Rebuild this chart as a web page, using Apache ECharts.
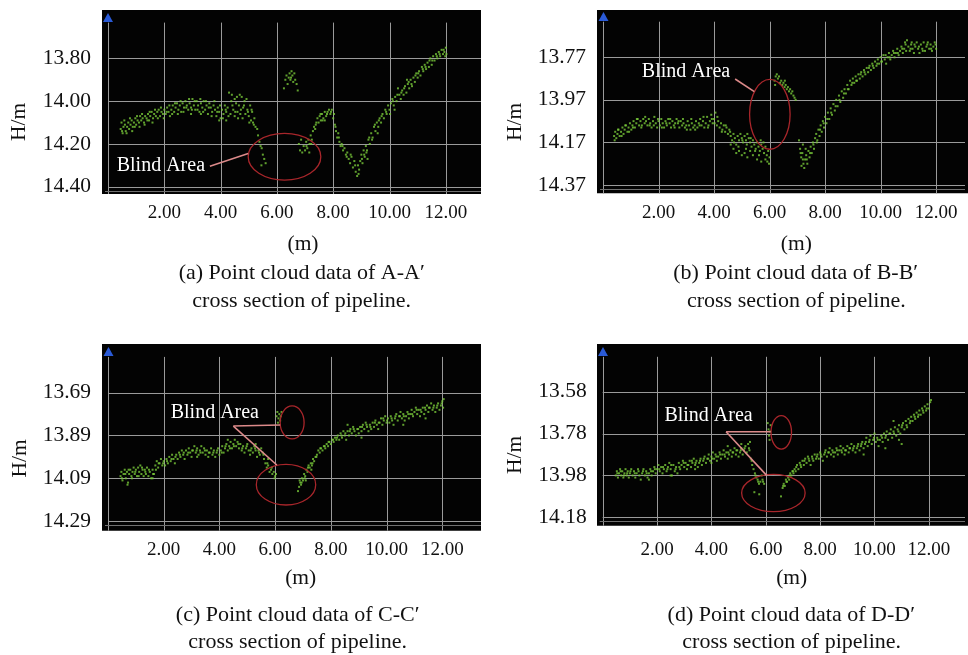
<!DOCTYPE html>
<html><head><meta charset="utf-8">
<script src="https://cdn.jsdelivr.net/npm/echarts@6/dist/echarts.min.js"></script>
<style>html,body{margin:0;padding:0;background:#fff}#c{width:968px;height:655px}</style>
</head><body><div id="c"></div>
<script>
// ---------- data ----------
const xTickLabels = [2, 4, 6, 8, 10, 12];
const yTickLabelsA = [13.80, 14.00, 14.20, 14.40];
const yTickLabelsB = [13.77, 13.97, 14.17, 14.37];
const yTickLabelsC = [13.69, 13.89, 14.09, 14.29];
const yTickLabelsD = [13.58, 13.78, 13.98, 14.18];
const captionsA = ['(a) Point cloud data of A-A\u2032', 'cross section of pipeline.'];
const captionsB = ['(b) Point cloud data of B-B\u2032', 'cross section of pipeline.'];
const captionsC = ['(c) Point cloud data of C-C\u2032', 'cross section of pipeline.'];
const captionsD = ['(d) Point cloud data of D-D\u2032', 'cross section of pipeline.'];
const noteText = 'Blind Area';

const pointsA = [
[0.45,14.13],[0.48,14.10],[0.52,14.15],[0.55,14.12],[0.60,14.11],[0.63,14.14],[0.68,14.12],[0.72,14.10],[0.75,14.13],[0.80,14.11],[0.84,14.09],[0.88,14.12],[0.92,14.10],[0.97,14.08],[1.00,14.11],[1.05,14.09],[1.10,14.10],[1.14,14.07],[1.18,14.09],[1.23,14.08],[1.28,14.10],[1.32,14.07],[1.37,14.08],[1.42,14.06],[1.46,14.09],[1.50,14.07],[1.55,14.05],[1.60,14.08],[1.64,14.06],[1.70,14.07],[1.75,14.05],[1.80,14.04],[1.85,14.07],[1.90,14.05],[1.95,14.06],[2.00,14.04],[2.05,14.06],[2.10,14.03],[2.15,14.05],[2.20,14.07],[2.25,14.04],[2.30,14.02],[2.35,14.05],[2.40,14.03],[2.45,14.01],[2.50,14.04],[2.55,14.02],[2.60,14.05],[2.65,14.01],[2.70,14.03],[2.75,14.00],[2.80,14.02],[2.85,14.04],[2.90,14.01],[2.95,14.03],[3.00,13.99],[3.05,14.02],[3.10,14.04],[3.15,14.00],[3.20,14.02],[3.25,14.05],[3.30,14.01],[3.35,14.03],[3.40,14.00],[3.45,14.04],[3.50,14.02],[3.55,14.06],[3.60,14.01],[3.65,14.03],[3.70,14.05],[3.75,14.02],[3.80,14.04],[3.85,14.07],[3.90,14.03],[3.95,14.05],[4.00,14.08],[4.05,14.04],[4.10,14.06],[4.15,14.02],[4.20,14.05],[4.25,14.03],[4.30,13.96],[4.35,14.06],[4.40,13.97],[4.45,14.04],[4.50,14.07],[4.55,14.01],[4.60,14.05],[4.65,14.02],[4.70,14.06],[4.75,13.98],[4.80,14.03],[4.85,14.00],[4.88,14.06],[4.92,13.99],[4.95,14.04],[5.00,14.07],[5.05,14.02],[5.08,14.09],[5.12,14.05],[5.15,14.10],[5.20,14.08],[5.24,14.12],
[3.95,14.09],[4.20,14.09],[4.62,14.08],[4.50,13.99],[4.68,13.97],[4.38,14.00],[3.30,14.06],[2.95,14.06],
[0.50,14.14],[0.58,14.09],[0.66,14.15],[0.78,14.08],[0.86,14.14],[0.95,14.12],[1.03,14.07],[1.12,14.12],[1.21,14.06],[1.30,14.11],[1.40,14.09],[1.48,14.05],[1.58,14.10],[1.67,14.04],[1.77,14.08],[1.88,14.03],[1.98,14.08],[2.08,14.05],[2.18,14.02],[2.28,14.06],[2.38,14.01],[2.48,14.06],[2.58,14.00],[2.68,14.05],[2.78,14.03],[2.88,13.99],[2.98,14.04],[3.08,14.00],[3.18,14.04],[3.28,13.99],[3.38,14.05],[3.48,14.00],[3.58,14.03],[3.68,14.07],[3.78,14.00],[3.88,14.05],[3.98,14.02],[4.08,14.08],[4.18,14.04],[4.28,14.07],[4.42,14.02],[4.52,14.05],[4.58,13.98],[4.72,14.04],[4.78,14.08],[4.83,14.02],[4.97,14.05],[5.02,14.10],[5.10,14.04],[5.18,14.11],
[5.30,14.13],[5.33,14.16],[5.38,14.19],[5.42,14.21],[5.46,14.22],[5.50,14.25],[5.55,14.27],[5.60,14.29],[5.45,14.30],
[6.25,13.94],[6.30,13.90],[6.34,13.88],[6.38,13.92],[6.42,13.89],[6.45,13.87],[6.48,13.90],[6.52,13.86],[6.55,13.88],[6.58,13.91],[6.62,13.87],[6.65,13.90],[6.70,13.92],[6.74,13.95],[6.50,13.89],
[6.78,14.20],[6.82,14.23],[6.86,14.18],[6.90,14.24],[6.95,14.21],[7.00,14.23],[7.04,14.19],[7.08,14.22],[7.12,14.18],[7.16,14.20],[7.20,14.16],[7.24,14.18],[7.28,14.14],[7.32,14.12],[7.36,14.13],[7.40,14.10],[7.44,14.08],[7.48,14.10],[7.52,14.07],[7.56,14.09],[7.60,14.06],[7.65,14.08],[7.70,14.05],[7.75,14.07],[7.80,14.05],[7.85,14.04],[7.90,14.06],[7.95,14.04],[8.00,14.08],[8.03,14.06],[8.06,14.11],[8.10,14.14],[8.14,14.17],[8.18,14.15],[8.22,14.19],[8.26,14.21],[8.30,14.20],[8.35,14.23],[8.40,14.22],[8.45,14.25],[8.50,14.24],[8.55,14.27],[8.60,14.29],[8.65,14.26],[8.70,14.31],[8.75,14.28],[8.80,14.33],[8.85,14.35],[8.88,14.30],[8.92,14.32],[8.96,14.28],[9.00,14.25],[9.04,14.29],[9.08,14.23],[9.12,14.26],[9.16,14.21],[9.20,14.23],[9.25,14.18],[9.30,14.20],[9.35,14.15],[9.40,14.17],[9.45,14.12],[9.50,14.14],[9.55,14.10],[9.60,14.12],[9.65,14.08],[9.70,14.10],[9.75,14.06],[9.80,14.08],[9.85,14.04],[9.90,14.06],[9.95,14.02],[10.00,14.04],[10.05,14.01],[10.10,13.99],[10.15,14.02],[10.20,13.98],[10.25,14.00],[10.30,13.94],[10.35,13.97],[10.40,13.99],[10.45,13.95],[10.50,13.97],[10.55,13.93],[10.60,13.96],[10.65,13.92],[10.70,13.94],[10.75,13.90],[10.80,13.93],[10.85,13.89],[10.90,13.91],[10.95,13.87],[11.00,13.89],[11.05,13.86],[11.10,13.88],[11.15,13.84],[11.20,13.86],[11.25,13.83],[11.30,13.85],[11.35,13.82],[11.40,13.84],[11.45,13.80],[11.50,13.83],[11.55,13.79],[11.60,13.81],[11.65,13.78],[11.70,13.80],[11.75,13.77],[11.80,13.79],[11.85,13.76],[11.90,13.78],[11.95,13.77],[12.00,13.75],[12.02,13.78],
[7.70,14.09],[7.15,14.24],[9.22,14.27],[9.58,14.15],[10.18,14.04],[10.62,13.90],
[7.05,14.21],[7.22,14.20],[7.38,14.11],[7.55,14.06],[7.62,14.09],[7.78,14.06],[7.92,14.05],[8.08,14.12],[8.20,14.17],[8.33,14.21],[8.48,14.26],[8.62,14.25],[8.78,14.30],[8.90,14.34],[9.02,14.27],[9.10,14.25],[9.18,14.24],[9.28,14.17],[9.38,14.18],[9.48,14.11],[9.62,14.09],[9.72,14.07],[9.88,14.05],[10.02,14.06],[10.12,14.00],[10.28,13.97],[10.42,13.96],[10.52,13.94],[10.68,13.91],[10.78,13.92],[10.92,13.88],[11.02,13.87],[11.18,13.85],[11.28,13.84],[11.42,13.81],[11.52,13.81],[11.68,13.79],[11.78,13.78],[11.92,13.76],[11.98,13.79]
];

const pointsB = [
[0.40,14.14],[0.44,14.12],[0.48,14.15],[0.52,14.13],[0.56,14.11],[0.60,14.14],[0.65,14.12],[0.70,14.10],[0.74,14.13],[0.78,14.11],[0.83,14.09],[0.88,14.12],[0.92,14.10],[0.97,14.08],[1.02,14.11],[1.06,14.09],[1.10,14.07],[1.15,14.10],[1.20,14.08],[1.25,14.06],[1.30,14.09],[1.35,14.07],[1.40,14.09],[1.45,14.06],[1.50,14.08],[1.55,14.07],[1.60,14.09],[1.65,14.06],[1.70,14.08],[1.75,14.10],[1.80,14.07],[1.85,14.05],[1.90,14.08],[1.95,14.10],[2.00,14.07],[2.05,14.09],[2.10,14.06],[2.15,14.08],[2.20,14.10],[2.25,14.07],[2.30,14.09],[2.35,14.06],[2.40,14.08],[2.45,14.10],[2.50,14.07],[2.55,14.09],[2.60,14.08],[2.65,14.06],[2.70,14.08],[2.75,14.10],[2.80,14.07],[2.85,14.09],[2.90,14.08],[2.95,14.10],[3.00,14.09],[3.05,14.07],[3.10,14.09],[3.15,14.11],[3.20,14.08],[3.25,14.10],[3.30,14.09],[3.35,14.07],[3.40,14.10],[3.45,14.08],[3.50,14.06],[3.55,14.09],[3.60,14.07],[3.65,14.10],[3.70,14.08],[3.75,14.05],[3.80,14.09],[3.85,14.07],[3.90,14.04],[3.95,14.08],[4.00,14.06],[4.05,14.03],[4.10,14.09],[4.15,14.07],[4.20,14.10],[4.25,14.08],[4.30,14.11],[4.35,14.09],[4.40,14.12],[4.45,14.10],[4.50,14.13],[4.55,14.11],[4.60,14.14],[4.65,14.16],[4.70,14.13],[4.75,14.15],[4.80,14.18],[4.85,14.14],[4.90,14.16],[4.95,14.13],[5.00,14.15],[5.05,14.17],[5.10,14.14],[5.15,14.16],[5.20,14.13],[5.25,14.15],[5.30,14.17],[5.35,14.19],[5.40,14.16],[5.45,14.18],[5.50,14.20],[5.55,14.17],[5.60,14.19],[5.65,14.21],[5.70,14.18],[5.75,14.20],[5.80,14.22],[5.85,14.19],[5.90,14.23],[5.95,14.21],[6.00,14.24],
[4.70,14.20],[4.80,14.22],[4.90,14.21],[5.00,14.23],[5.10,14.22],[5.20,14.24],[5.30,14.21],[5.40,14.23],[5.55,14.25],[5.70,14.26],[5.85,14.25],[5.98,14.27],[4.60,14.18],[5.15,14.20],
[0.42,14.16],[0.54,14.11],[0.67,14.14],[0.80,14.09],[0.94,14.12],[1.08,14.10],[1.22,14.06],[1.38,14.10],[1.52,14.05],[1.68,14.09],[1.83,14.09],[1.98,14.06],[2.12,14.10],[2.28,14.08],[2.42,14.06],[2.58,14.10],[2.72,14.07],[2.88,14.06],[3.02,14.11],[3.18,14.06],[3.32,14.11],[3.48,14.09],[3.62,14.05],[3.78,14.10],[3.92,14.06],[4.02,14.08],[4.12,14.05],[4.28,14.12],[4.42,14.09],[4.58,14.12],[4.72,14.17],[4.88,14.19],[5.02,14.16],[5.18,14.18],[5.32,14.15],[5.48,14.21],[5.62,14.23],[5.78,14.17],[5.92,14.26],[5.68,14.16],
[6.18,13.88],[6.22,13.86],[6.26,13.85],[6.30,13.87],[6.34,13.86],[6.38,13.89],[6.42,13.88],[6.46,13.90],[6.50,13.89],[6.54,13.91],[6.58,13.90],[6.62,13.92],[6.66,13.91],[6.70,13.93],[6.74,13.92],[6.78,13.94],[6.82,13.93],[6.86,13.95],[6.90,13.96],[6.94,13.97],[6.20,13.90],[6.55,13.88],
[7.06,14.16],[7.10,14.20],[7.14,14.24],[7.18,14.22],[7.22,14.27],[7.25,14.29],[7.28,14.25],[7.32,14.23],[7.36,14.27],[7.40,14.21],[7.44,14.24],[7.48,14.19],[7.52,14.22],[7.56,14.17],[7.60,14.20],[7.64,14.15],[7.68,14.13],[7.72,14.16],[7.76,14.11],[7.80,14.14],[7.84,14.09],[7.88,14.12],[7.92,14.07],[7.96,14.10],[8.00,14.05],[8.05,14.08],[8.10,14.03],[8.15,14.06],[8.20,14.01],[8.25,14.04],[8.30,13.99],[8.35,14.02],[8.40,13.97],[8.45,14.00],[8.50,13.95],[8.55,13.98],[8.60,13.93],[8.65,13.96],[8.70,13.92],[8.75,13.94],[8.80,13.90],[8.85,13.92],[8.90,13.88],[8.95,13.90],[9.00,13.87],[9.05,13.89],[9.10,13.86],[9.15,13.88],[9.20,13.85],[9.25,13.87],[9.30,13.84],[9.35,13.86],[9.40,13.83],[9.45,13.85],[9.50,13.82],[9.55,13.84],[9.60,13.81],[9.65,13.83],[9.70,13.80],[9.75,13.82],[9.80,13.79],[9.85,13.81],[9.90,13.78],[9.95,13.80],[10.00,13.77],[10.05,13.79],[10.10,13.76],[10.15,13.78],[10.20,13.80],[10.25,13.77],[10.30,13.75],[10.35,13.78],[10.40,13.76],[10.45,13.74],[10.50,13.77],[10.55,13.75],[10.60,13.73],[10.65,13.76],[10.70,13.74],[10.75,13.72],[10.80,13.75],[10.85,13.73],[10.90,13.71],[10.95,13.69],[11.00,13.72],[11.05,13.74],[11.10,13.71],[11.15,13.73],[11.20,13.75],[11.25,13.72],[11.30,13.70],[11.35,13.73],[11.40,13.75],[11.45,13.71],[11.50,13.73],[11.55,13.70],[11.60,13.74],[11.65,13.72],[11.70,13.70],[11.75,13.73],[11.80,13.71],[11.85,13.74],[11.90,13.72],[11.95,13.70],[12.00,13.73],
[7.15,14.28],[7.20,14.18],[7.30,14.20],
[7.12,14.22],[7.20,14.25],[7.34,14.25],[7.46,14.22],[7.58,14.18],[7.70,14.17],[7.82,14.11],[7.95,14.08],[8.08,14.06],[8.22,14.03],[8.38,14.00],[8.52,13.97],[8.68,13.94],[8.82,13.92],[8.98,13.89],[9.12,13.88],[9.28,13.85],[9.42,13.84],[9.58,13.82],[9.72,13.81],[9.88,13.80],[10.02,13.79],[10.18,13.76],[10.32,13.77],[10.48,13.75],[10.62,13.75],[10.78,13.73],[10.92,13.74],[11.08,13.73],[11.22,13.71],[11.38,13.72],[11.52,13.74],[11.68,13.71],[11.82,13.73],[11.98,13.71],[10.88,13.70],[11.12,13.70]
];

const pointsC = [
[0.45,14.08],[0.48,14.06],[0.52,14.10],[0.56,14.07],[0.60,14.05],[0.64,14.09],[0.68,14.06],[0.72,14.11],[0.76,14.07],[0.80,14.05],[0.84,14.08],[0.88,14.06],[0.92,14.04],[0.96,14.07],[1.00,14.05],[1.04,14.08],[1.08,14.04],[1.12,14.06],[1.16,14.03],[1.20,14.07],[1.24,14.05],[1.28,14.08],[1.32,14.05],[1.36,14.07],[1.40,14.04],[1.45,14.08],[1.50,14.06],[1.55,14.09],[1.60,14.05],[1.65,14.07],[1.70,14.03],[1.75,14.01],[1.80,14.04],[1.85,14.02],[1.90,14.00],[1.95,14.03],[2.00,14.01],[2.05,14.03],[2.10,14.00],[2.15,14.02],[2.20,13.99],[2.25,14.01],[2.30,13.98],[2.35,14.00],[2.40,14.02],[2.45,13.98],[2.50,14.00],[2.55,13.97],[2.60,13.99],[2.65,13.96],[2.70,13.98],[2.75,14.00],[2.80,13.96],[2.85,13.98],[2.90,13.95],[2.95,13.97],[3.00,13.99],[3.05,13.96],[3.10,13.94],[3.15,13.97],[3.20,13.95],[3.25,13.98],[3.30,13.96],[3.35,13.94],[3.40,13.97],[3.45,13.95],[3.50,13.98],[3.55,13.96],[3.60,13.99],[3.65,13.97],[3.70,13.95],[3.75,13.98],[3.80,13.96],[3.85,13.99],[3.90,13.97],[3.95,13.95],[4.00,13.98],[4.05,13.96],[4.10,13.94],[4.15,13.97],[4.20,13.95],[4.25,13.93],[4.30,13.96],[4.35,13.94],[4.40,13.92],[4.45,13.95],[4.50,13.93],[4.55,13.91],[4.60,13.94],[4.65,13.92],[4.70,13.95],[4.75,13.93],[4.80,13.96],[4.85,13.94],[4.90,13.97],[4.95,13.95],[5.00,13.93],[5.05,13.96],[5.10,13.98],[5.15,13.95],[5.20,13.97],[5.25,13.94],[5.30,13.96],[5.35,13.99],[5.40,13.96],[5.45,13.98],[5.50,13.95],[5.55,13.97],[5.60,14.00],[5.65,14.02],[5.70,14.04],[5.75,14.03],[5.80,14.06],[5.85,14.05],[5.90,14.07],[5.95,14.06],[6.00,14.08],[6.03,14.07],
[0.70,14.12],[1.60,14.09],[3.20,13.99],[4.30,13.91],[5.30,13.93],[5.75,14.00],
[0.50,14.09],[0.62,14.07],[0.74,14.05],[0.86,14.09],[0.98,14.06],[1.10,14.08],[1.22,14.04],[1.34,14.06],[1.47,14.05],[1.62,14.07],[1.72,14.05],[1.82,14.02],[1.98,14.02],[2.12,14.01],[2.28,14.00],[2.42,13.99],[2.58,13.98],[2.72,13.97],[2.88,13.97],[3.02,13.96],[3.18,13.96],[3.32,13.97],[3.48,13.96],[3.62,13.97],[3.78,13.97],[3.92,13.96],[4.08,13.97],[4.22,13.94],[4.38,13.95],[4.52,13.94],[4.68,13.93],[4.82,13.95],[4.98,13.94],[5.12,13.96],[5.28,13.95],[5.42,13.97],[5.58,13.98],[5.72,14.02],[5.88,14.04],[5.98,14.09],
[6.05,13.80],[6.08,13.78],[6.12,13.81],[6.15,13.79],[6.18,13.82],[6.20,13.80],[6.23,13.78],[6.10,13.83],
[6.82,14.15],[6.86,14.13],[6.90,14.11],[6.93,14.12],[6.96,14.09],[7.00,14.10],[7.04,14.07],[7.08,14.08],[7.12,14.05],[7.16,14.06],[7.20,14.03],[7.24,14.04],[7.28,14.02],[7.32,14.03],[7.36,14.00],[7.40,14.01],[7.45,13.99],[7.50,13.98],[7.55,13.96],[7.60,13.97],[7.65,13.95],[7.70,13.96],[7.75,13.94],[7.80,13.95],[7.85,13.93],[7.90,13.94],[7.95,13.92],[8.00,13.93],[8.05,13.91],[8.10,13.92],[8.15,13.90],[8.20,13.91],[8.25,13.89],[8.30,13.91],[8.35,13.88],[8.40,13.90],[8.45,13.87],[8.50,13.89],[8.55,13.91],[8.60,13.87],[8.65,13.89],[8.70,13.86],[8.75,13.88],[8.80,13.85],[8.85,13.87],[8.90,13.89],[8.95,13.86],[9.00,13.88],[9.05,13.85],[9.10,13.87],[9.15,13.84],[9.20,13.86],[9.25,13.83],[9.30,13.85],[9.35,13.87],[9.40,13.84],[9.45,13.86],[9.50,13.83],[9.55,13.85],[9.60,13.82],[9.65,13.84],[9.70,13.86],[9.75,13.83],[9.80,13.81],[9.85,13.84],[9.90,13.82],[9.95,13.80],[10.00,13.83],[10.05,13.81],[10.10,13.83],[10.15,13.80],[10.20,13.82],[10.25,13.84],[10.30,13.81],[10.35,13.79],[10.40,13.82],[10.45,13.80],[10.50,13.78],[10.55,13.81],[10.60,13.79],[10.65,13.82],[10.70,13.80],[10.75,13.78],[10.80,13.81],[10.85,13.79],[10.90,13.77],[10.95,13.80],[11.00,13.78],[11.05,13.76],[11.10,13.79],[11.15,13.77],[11.20,13.80],[11.25,13.78],[11.30,13.76],[11.35,13.79],[11.40,13.77],[11.45,13.75],[11.50,13.78],[11.55,13.76],[11.60,13.74],[11.65,13.77],[11.70,13.75],[11.75,13.78],[11.80,13.76],[11.85,13.74],[11.90,13.77],[11.95,13.75],[12.00,13.73],[12.03,13.76],[12.05,13.72],
[6.88,14.10],[7.10,14.10],[7.30,14.05],[8.60,13.84],[9.10,13.90],[10.60,13.84],[11.40,13.81],
[6.95,14.11],[7.06,14.09],[7.18,14.04],[7.34,14.02],[7.48,13.99],[7.62,13.95],[7.78,13.94],[7.92,13.92],[8.08,13.91],[8.22,13.90],[8.38,13.89],[8.52,13.88],[8.68,13.87],[8.82,13.86],[8.98,13.86],[9.12,13.85],[9.28,13.84],[9.42,13.85],[9.58,13.83],[9.72,13.83],[9.88,13.81],[10.02,13.82],[10.18,13.81],[10.32,13.80],[10.48,13.80],[10.62,13.80],[10.78,13.79],[10.92,13.79],[11.08,13.77],[11.22,13.77],[11.38,13.76],[11.52,13.76],[11.68,13.76],[11.82,13.75],[11.98,13.74]
];

const pointsD = [
[0.48,13.98],[0.52,13.96],[0.56,13.99],[0.60,13.97],[0.64,13.95],[0.68,13.98],[0.72,13.96],[0.76,13.99],[0.80,13.97],[0.84,13.95],[0.88,13.98],[0.92,13.96],[0.96,13.99],[1.00,13.97],[1.05,13.95],[1.10,13.98],[1.15,13.96],[1.20,13.99],[1.25,13.97],[1.30,13.95],[1.35,13.98],[1.40,14.00],[1.45,13.97],[1.50,13.95],[1.55,13.98],[1.60,13.96],[1.65,13.99],[1.70,13.97],[1.75,13.95],[1.80,13.98],[1.85,13.96],[1.90,13.94],[1.95,13.97],[2.00,13.95],[2.05,13.93],[2.10,13.96],[2.15,13.94],[2.20,13.97],[2.25,13.95],[2.30,13.93],[2.35,13.96],[2.40,13.94],[2.45,13.92],[2.50,13.95],[2.55,13.98],[2.60,13.93],[2.65,13.96],[2.70,13.94],[2.75,13.97],[2.80,13.92],[2.85,13.95],[2.90,13.93],[2.95,13.91],[3.00,13.94],[3.05,13.92],[3.10,13.95],[3.15,13.93],[3.20,13.91],[3.25,13.94],[3.30,13.92],[3.35,13.90],[3.40,13.93],[3.45,13.91],[3.50,13.94],[3.55,13.92],[3.60,13.90],[3.65,13.93],[3.70,13.91],[3.75,13.89],[3.80,13.92],[3.85,13.90],[3.90,13.88],[3.95,13.91],[4.00,13.89],[4.05,13.87],[4.10,13.90],[4.15,13.88],[4.20,13.91],[4.25,13.89],[4.30,13.87],[4.35,13.90],[4.40,13.88],[4.45,13.86],[4.50,13.89],[4.55,13.87],[4.60,13.90],[4.65,13.88],[4.70,13.86],[4.75,13.89],[4.80,13.87],[4.85,13.85],[4.90,13.88],[4.95,13.86],[5.00,13.89],[5.05,13.87],[5.10,13.85],[5.15,13.88],[5.20,13.86],[5.25,13.84],[5.30,13.87],[5.35,13.83],[5.40,13.86],[5.42,13.82],[5.45,13.90],[5.50,13.93],[5.55,13.95],[5.60,13.97],[5.65,13.99],[5.70,14.00],[5.75,14.02],[5.80,14.01],[5.85,13.98],[5.90,14.01],[5.94,14.02],[5.58,14.06],[5.76,14.07],
[1.70,14.00],[2.50,13.98],[3.40,13.95],[4.00,13.92],[4.60,13.84],[5.10,13.83],
[0.54,13.97],[0.66,13.96],[0.78,13.98],[0.90,13.97],[1.02,13.96],[1.18,13.97],[1.32,13.96],[1.48,13.96],[1.62,13.97],[1.78,13.96],[1.92,13.95],[2.08,13.95],[2.22,13.94],[2.38,13.95],[2.52,13.93],[2.68,13.95],[2.82,13.94],[2.98,13.92],[3.12,13.93],[3.28,13.91],[3.42,13.92],[3.58,13.91],[3.72,13.90],[3.88,13.90],[4.02,13.90],[4.18,13.89],[4.32,13.88],[4.48,13.88],[4.62,13.87],[4.78,13.87],[4.92,13.86],[5.08,13.86],[5.22,13.85],[5.38,13.85],[5.48,13.91],[5.62,13.98],[5.72,14.01],[5.88,14.00],
[6.07,13.73],[6.10,13.76],[6.12,13.79],[6.14,13.81],[6.16,13.77],[6.18,13.74],
[6.56,14.08],[6.62,14.04],[6.66,14.02],[6.70,14.03],[6.74,14.00],[6.78,14.01],[6.82,13.99],[6.86,14.00],[6.90,13.97],[6.94,13.98],[6.98,13.96],[7.02,13.97],[7.06,13.95],[7.10,13.96],[7.15,13.93],[7.20,13.95],[7.25,13.92],[7.30,13.94],[7.35,13.91],[7.40,13.93],[7.45,13.90],[7.50,13.92],[7.55,13.89],[7.60,13.91],[7.65,13.93],[7.70,13.89],[7.75,13.91],[7.80,13.88],[7.85,13.90],[7.90,13.88],[7.95,13.90],[8.00,13.87],[8.05,13.89],[8.10,13.91],[8.15,13.88],[8.20,13.86],[8.25,13.89],[8.30,13.87],[8.35,13.85],[8.40,13.88],[8.45,13.86],[8.50,13.89],[8.55,13.87],[8.60,13.85],[8.65,13.88],[8.70,13.86],[8.75,13.84],[8.80,13.87],[8.85,13.85],[8.90,13.88],[8.95,13.86],[9.00,13.84],[9.05,13.87],[9.10,13.85],[9.15,13.83],[9.20,13.86],[9.25,13.84],[9.30,13.87],[9.35,13.85],[9.40,13.83],[9.45,13.86],[9.50,13.84],[9.55,13.82],[9.60,13.85],[9.65,13.83],[9.70,13.80],[9.75,13.84],[9.80,13.82],[9.85,13.79],[9.90,13.83],[9.95,13.81],[10.00,13.78],[10.05,13.82],[10.10,13.80],[10.15,13.84],[10.20,13.81],[10.25,13.79],[10.30,13.82],[10.35,13.78],[10.40,13.80],[10.45,13.77],[10.50,13.81],[10.55,13.78],[10.60,13.76],[10.65,13.80],[10.70,13.77],[10.75,13.75],[10.80,13.79],[10.85,13.76],[10.90,13.74],[10.95,13.78],[11.00,13.75],[11.05,13.73],[11.10,13.76],[11.15,13.72],[11.20,13.75],[11.25,13.71],[11.30,13.73],[11.35,13.70],[11.40,13.72],[11.45,13.69],[11.50,13.71],[11.55,13.68],[11.60,13.70],[11.65,13.67],[11.70,13.69],[11.75,13.66],[11.80,13.68],[11.85,13.65],[11.90,13.67],[11.95,13.64],[12.00,13.66],[12.05,13.63],[12.08,13.62],
[9.60,13.88],[10.40,13.85],[10.90,13.81],[10.70,13.72],[11.00,13.83],
[6.64,14.03],[6.76,14.01],[6.88,13.98],[7.00,13.96],[7.12,13.94],[7.28,13.93],[7.42,13.91],[7.58,13.90],[7.72,13.90],[7.88,13.89],[8.02,13.88],[8.18,13.87],[8.32,13.87],[8.48,13.87],[8.62,13.86],[8.78,13.86],[8.92,13.86],[9.08,13.85],[9.22,13.85],[9.38,13.84],[9.52,13.83],[9.68,13.82],[9.82,13.81],[9.98,13.80],[10.12,13.81],[10.28,13.80],[10.42,13.79],[10.58,13.78],[10.72,13.78],[10.88,13.77],[11.02,13.74],[11.18,13.74],[11.32,13.72],[11.48,13.70],[11.62,13.69],[11.78,13.67],[11.92,13.66]
];

// annotations: ellipses [cx, cy, rx, ry], leader lines [x1, y1, x2, y2], note anchor [x, y]
const ellipsesA = [[6.27, 14.26, 1.29, 0.109]];
const leadersA = [[3.62, 14.304, 4.98, 14.245]];
const noteA = [[0.31, 14.304]];
const ellipsesB = [[6.01, 14.038, 0.73, 0.164]];
const leadersB = [[4.76, 13.872, 5.45, 13.931]];
const noteB = [[1.40, 13.84]];
const ellipsesC = [[6.61, 13.829, 0.43, 0.077], [6.39, 14.12, 1.066, 0.095]];
const leadersC = [[4.50, 13.846, 6.18, 13.841], [4.50, 13.846, 6.06, 14.028]];
const noteC = [[2.25, 13.782]];
const ellipsesD = [[6.57, 13.774, 0.377, 0.08], [6.28, 14.064, 1.168, 0.089]];
const leadersD = [[4.54, 13.771, 6.18, 13.771], [4.54, 13.771, 6.04, 13.981]];
const noteD = [[2.27, 13.695]];

// ---------- layout ----------
const FONT = '"Liberation Serif", "Times New Roman", serif';
const GRIDC = '#9a9a9a';
const TXT = '#111111';
const panels = [
  {grid:{left:108, top:15.6, width:373, height:178.4}, xMax:13.25, yMin:13.60, yMax:14.434, yT:yTickLabelsA, pts:pointsA, ell:ellipsesA, lead:leadersA, note:noteA, cap:captionsA,
   bg:[102,10,379,184], hm:[19,122], m:[303,244], c1:[301.7,273], c2:[301.7,301.7], tri:[108,13], xm:10, ym:17},
  {grid:{left:603, top:14.7, width:365, height:178.6}, xMax:13.04, yMin:13.57, yMax:14.409, yT:yTickLabelsB, pts:pointsB, ell:ellipsesB, lead:leadersB, note:noteB, cap:captionsB,
   bg:[597,10,371,183.3], hm:[515.7,122], m:[796.3,244], c1:[795.7,273], c2:[796.3,301.7], tri:[603.5,12], xm:10.5, ym:17},
  {grid:{left:108, top:349.9, width:373, height:180.8}, xMax:13.39, yMin:13.49, yMax:14.335, yT:yTickLabelsC, pts:pointsC, ell:ellipsesC, lead:leadersC, note:noteC, cap:captionsC,
   bg:[102,344,379,186.7], hm:[20,458.3], m:[300.7,578.3], c1:[297.7,615], c2:[297.7,642.3], tri:[108.5,347], xm:9.8, ym:17},
  {grid:{left:602.7, top:349.8, width:365.3, height:175.9}, xMax:13.33, yMin:13.38, yMax:14.22, yT:yTickLabelsD, pts:pointsD, ell:ellipsesD, lead:leadersD, note:noteD, cap:captionsD,
   bg:[597,344,371,181.7], hm:[515.7,455], m:[791.7,578.3], c1:[791.3,615], c2:[791.7,642.3], tri:[603,347], xm:14.8, ym:16}
];

function fmtFrom(list) {
  return function (v) { return list.some(t => Math.abs(t - v) < 1e-6) ? v.toFixed(2) : ''; };
}
function crisp(v) { return Math.round(v) + 0.5; }

function gridRender(params, api) {
  const cs = params.coordSys;
  const kind = api.value(2);
  const p = api.coord([api.value(0), api.value(1)]);
  const st = {stroke: GRIDC, lineWidth: 1};
  if (kind === 0) {
    const x = crisp(p[0]);
    return {type:'line', shape:{x1:x, y1:cs.y + 7, x2:x, y2:cs.y + cs.height}, style:st};
  }
  const y = crisp(p[1]);
  const ch = [{type:'line', shape:{x1:cs.x, y1:y, x2:cs.x + cs.width, y2:y}, style:st}];
  if (kind === 2) ch.push({type:'line', shape:{x1:cs.x - 3, y1:y + 4, x2:cs.x + cs.width, y2:y + 4}, style:{stroke:'#707070', lineWidth:1}});
  return {type:'group', children: ch};
}
function ellipseRender(params, api) {
  const c = api.coord([api.value(0), api.value(1)]);
  const s = api.size([api.value(2), api.value(3)]);
  return {type:'ellipse', shape:{cx:c[0], cy:c[1], rx:s[0], ry:s[1]}, style:{fill:'none', stroke:'#a8262b', lineWidth:1.3}};
}
function leaderRender(params, api) {
  const a = api.coord([api.value(0), api.value(1)]);
  const b = api.coord([api.value(2), api.value(3)]);
  return {type:'line', shape:{x1:a[0], y1:a[1], x2:b[0], y2:b[1]}, style:{stroke:'#dc8a8a', lineWidth:1.6}};
}
function noteRender(params, api) {
  const p = api.coord([api.value(0), api.value(1)]);
  return {type:'text', x:p[0], y:p[1], style:{text: noteText, fill:'#ffffff', font:'20px ' + FONT,
    align:'left', verticalAlign:'middle', textAlign:'left', textVerticalAlign:'middle'}};
}

const option = {animation:false, backgroundColor:'#ffffff', grid:[], xAxis:[], yAxis:[], series:[], graphic:[]};
panels.forEach((P, i) => {
  option.grid.push(Object.assign({containLabel:false}, P.grid));
  option.xAxis.push({gridIndex:i, type:'value', min:0, max:P.xMax, interval:2,
    axisLine:{show:false}, axisTick:{show:false}, splitLine:{show:false},
    axisLabel:{formatter: fmtFrom(xTickLabels), fontFamily:FONT, fontSize:19, color:TXT, margin:P.xm, showMinLabel:true, showMaxLabel:true}});
  option.yAxis.push({gridIndex:i, type:'value', inverse:true, min:P.yMin, max:P.yMax, interval:0.2,
    axisLine:{show:false}, axisTick:{show:false}, splitLine:{show:false},
    axisLabel:{formatter: fmtFrom(P.yT), fontFamily:FONT, fontSize:21.5, color:TXT, margin:P.ym, showMinLabel:true, showMaxLabel:true}});
  const gdata = [[0, P.yMin, 0]].concat(xTickLabels.map(v => [v, P.yMin, 0]))
    .concat(P.yT.map((v, k) => [0, v, k === P.yT.length - 1 ? 2 : 1]));
  option.series.push({type:'custom', xAxisIndex:i, yAxisIndex:i, renderItem:gridRender, data:gdata, encode:{x:0, y:1}, z:1, silent:true});
  option.series.push({type:'scatter', xAxisIndex:i, yAxisIndex:i, data:P.pts, symbol:'rect', symbolSize:2,
    itemStyle:{color:'#78c83a'}, z:3, silent:true});
  option.series.push({type:'custom', xAxisIndex:i, yAxisIndex:i, renderItem:ellipseRender, data:P.ell, encode:{x:0, y:1}, z:4, silent:true});
  option.series.push({type:'custom', xAxisIndex:i, yAxisIndex:i, renderItem:leaderRender, data:P.lead, encode:{x:[0,2], y:[1,3]}, z:4, silent:true});
  option.series.push({type:'custom', xAxisIndex:i, yAxisIndex:i, renderItem:noteRender, data:P.note, encode:{x:0, y:1}, z:5, silent:true});
  // decorations
  option.graphic.push({type:'rect', z:-10, shape:{x:P.bg[0], y:P.bg[1], width:P.bg[2], height:P.bg[3]}, style:{fill:'#030303'}, silent:true});
  option.graphic.push({type:'polygon', z:10, shape:{points:[[P.tri[0], P.tri[1]], [P.tri[0]-5, P.tri[1]+9], [P.tri[0]+5, P.tri[1]+9]]}, style:{fill:'#2a5ad6'}, silent:true});
  option.graphic.push({type:'text', x:P.hm[0], y:P.hm[1], rotation:Math.PI/2, style:{text:'H/m', font:'21.5px ' + FONT, fill:TXT, align:'center', verticalAlign:'middle', textAlign:'center', textVerticalAlign:'middle'}});
  option.graphic.push({type:'text', x:P.m[0], y:P.m[1], style:{text:'(m)', font:'21.5px ' + FONT, fill:TXT, align:'center', verticalAlign:'middle', textAlign:'center', textVerticalAlign:'middle'}});
  option.graphic.push({type:'text', x:P.c1[0], y:P.c1[1], style:{text:P.cap[0], font:'22px ' + FONT, fill:TXT, align:'center', verticalAlign:'middle', textAlign:'center', textVerticalAlign:'middle'}});
  option.graphic.push({type:'text', x:P.c2[0], y:P.c2[1], style:{text:P.cap[1], font:'22px ' + FONT, fill:TXT, align:'center', verticalAlign:'middle', textAlign:'center', textVerticalAlign:'middle'}});
});

const chart = echarts.init(document.getElementById('c'), null, {renderer:'canvas'});
chart.setOption(option);
</script>
</body></html>
